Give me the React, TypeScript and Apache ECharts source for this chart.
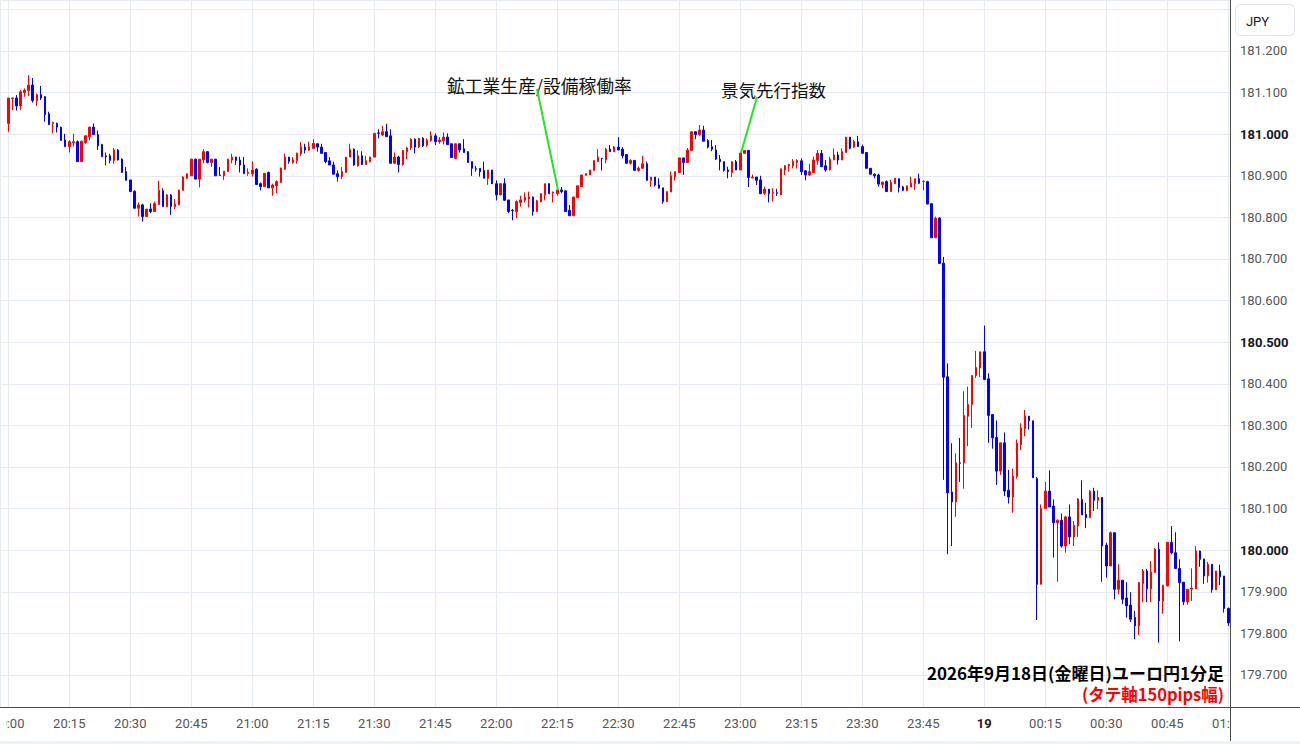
import React, { useEffect, useRef } from "react";
import * as echarts from "echarts";

// Each candle: [open, close, low, high] — EUR/JPY 1-minute, 2026-09-18
const hour20: number[][] = [
  [181.026, 181.087, 181.006, 181.087], [181.086, 181.087, 181.058, 181.088], [181.087, 181.068, 181.057, 181.094],
  [181.068, 181.102, 181.058, 181.106], [181.100, 181.106, 181.090, 181.110], [181.105, 181.118, 181.092, 181.142],
  [181.118, 181.081, 181.076, 181.135], [181.081, 181.095, 181.068, 181.098], [181.095, 181.087, 181.082, 181.116],
  [181.090, 181.047, 181.030, 181.092], [181.049, 181.023, 181.023, 181.054], [181.026, 181.028, 181.002, 181.030],
  [181.026, 181.017, 181.004, 181.028], [181.017, 180.985, 180.985, 181.018], [180.986, 180.970, 180.970, 181.001],
  [180.970, 180.982, 180.956, 180.986], [180.980, 180.982, 180.970, 181.001], [180.982, 180.934, 180.934, 180.985],
  [180.934, 180.983, 180.934, 180.985], [180.980, 180.996, 180.977, 180.998], [180.994, 181.017, 180.985, 181.018],
  [181.017, 180.999, 180.999, 181.026], [180.999, 180.972, 180.962, 181.009], [180.975, 180.946, 180.946, 180.977],
  [180.948, 180.946, 180.925, 180.956], [180.948, 180.937, 180.930, 180.953], [180.937, 180.962, 180.929, 180.967],
  [180.962, 180.938, 180.937, 180.964], [180.940, 180.908, 180.908, 180.942], [180.910, 180.889, 180.889, 180.921],
  [180.890, 180.862, 180.862, 180.890], [180.863, 180.822, 180.822, 180.865], [180.822, 180.830, 180.802, 180.836],
  [180.830, 180.802, 180.790, 180.833], [180.802, 180.820, 180.802, 180.820], [180.820, 180.814, 180.810, 180.834],
  [180.814, 180.833, 180.814, 180.838], [180.831, 180.865, 180.831, 180.888], [180.864, 180.826, 180.826, 180.870],
  [180.826, 180.854, 180.826, 180.856], [180.854, 180.826, 180.806, 180.856], [180.826, 180.832, 180.820, 180.844],
  [180.830, 180.866, 180.830, 180.866], [180.865, 180.897, 180.865, 180.899], [180.894, 180.905, 180.892, 180.906],
  [180.900, 180.940, 180.900, 180.941], [180.940, 180.892, 180.892, 180.941], [180.892, 180.940, 180.872, 180.940],
  [180.938, 180.958, 180.930, 180.964], [180.958, 180.932, 180.930, 180.958], [180.932, 180.940, 180.921, 180.940],
  [180.940, 180.900, 180.900, 180.940], [180.902, 180.901, 180.900, 180.921], [180.900, 180.911, 180.890, 180.911],
  [180.910, 180.940, 180.910, 180.940], [180.938, 180.945, 180.930, 180.953], [180.945, 180.937, 180.926, 180.946],
  [180.938, 180.926, 180.908, 180.946], [180.926, 180.905, 180.905, 180.945], [180.906, 180.908, 180.900, 180.918],
];

const hour21: number[][] = [
  [180.905, 180.914, 180.898, 180.935], [180.916, 180.879, 180.878, 180.918], [180.881, 180.874, 180.865, 180.884],
  [180.874, 180.906, 180.874, 180.906], [180.908, 180.871, 180.871, 180.910], [180.871, 180.878, 180.852, 180.881],
  [180.876, 180.886, 180.858, 180.889], [180.884, 180.919, 180.884, 180.919], [180.916, 180.945, 180.914, 180.953],
  [180.945, 180.935, 180.929, 180.945], [180.932, 180.938, 180.929, 180.945], [180.937, 180.954, 180.929, 180.956],
  [180.953, 180.970, 180.948, 180.981], [180.969, 180.962, 180.954, 180.977], [180.962, 180.970, 180.960, 180.982],
  [180.966, 180.978, 180.964, 180.988], [180.977, 180.969, 180.958, 180.978], [180.969, 180.954, 180.954, 180.977],
  [180.956, 180.934, 180.930, 180.956], [180.936, 180.926, 180.926, 180.945], [180.926, 180.904, 180.904, 180.934],
  [180.905, 180.898, 180.886, 180.913], [180.898, 180.910, 180.892, 180.921], [180.908, 180.945, 180.908, 180.945],
  [180.945, 180.964, 180.945, 180.977], [180.964, 180.926, 180.924, 180.966], [180.924, 180.948, 180.922, 180.961],
  [180.948, 180.927, 180.926, 180.959], [180.927, 180.936, 180.927, 180.948], [180.934, 180.945, 180.932, 180.946],
  [180.945, 181.002, 180.945, 181.002], [181.003, 181.002, 180.990, 181.012], [180.998, 181.006, 180.996, 181.020],
  [181.006, 180.994, 180.994, 181.025], [180.996, 180.930, 180.930, 181.012], [180.930, 180.945, 180.929, 180.956],
  [180.945, 180.927, 180.908, 180.948], [180.927, 180.961, 180.924, 180.962], [180.958, 180.967, 180.940, 180.969],
  [180.967, 180.988, 180.962, 180.990], [180.988, 180.969, 180.954, 180.990], [180.969, 180.990, 180.967, 180.991],
  [180.990, 180.972, 180.969, 180.993], [180.974, 180.986, 180.970, 180.990], [180.985, 180.996, 180.982, 181.007],
  [180.996, 180.982, 180.974, 181.002], [180.982, 180.986, 180.977, 180.993], [180.985, 180.993, 180.975, 181.004],
  [180.993, 180.975, 180.975, 181.002], [180.977, 180.944, 180.944, 180.977], [180.942, 180.977, 180.940, 180.977],
  [180.977, 180.962, 180.956, 180.977], [180.965, 180.956, 180.956, 180.988], [180.958, 180.932, 180.932, 180.959],
  [180.934, 180.918, 180.900, 180.934], [180.917, 180.916, 180.910, 180.924], [180.918, 180.910, 180.898, 180.918],
  [180.913, 180.894, 180.894, 180.934], [180.894, 180.914, 180.878, 180.914], [180.914, 180.881, 180.881, 180.914],
];

const hour22: number[][] = [
  [180.881, 180.854, 180.841, 180.889], [180.854, 180.881, 180.854, 180.881], [180.881, 180.841, 180.841, 180.894],
  [180.842, 180.814, 180.810, 180.842], [180.817, 180.816, 180.793, 180.820], [180.814, 180.838, 180.798, 180.841],
  [180.836, 180.842, 180.826, 180.852], [180.841, 180.848, 180.836, 180.860], [180.844, 180.849, 180.824, 180.862],
  [180.849, 180.814, 180.804, 180.850], [180.814, 180.840, 180.814, 180.842], [180.837, 180.857, 180.837, 180.858],
  [180.854, 180.881, 180.841, 180.881], [180.881, 180.857, 180.857, 180.882], [180.859, 180.861, 180.836, 180.862],
  [180.857, 180.866, 180.852, 180.873], [180.866, 180.862, 180.858, 180.873], [180.864, 180.814, 180.814, 180.864],
  [180.817, 180.804, 180.804, 180.830], [180.804, 180.849, 180.804, 180.849], [180.847, 180.876, 180.847, 180.876],
  [180.874, 180.902, 180.874, 180.902], [180.901, 180.905, 180.901, 180.906], [180.902, 180.914, 180.902, 180.914],
  [180.913, 180.937, 180.913, 180.937], [180.934, 180.945, 180.934, 180.964], [180.942, 180.941, 180.913, 180.943],
  [180.938, 180.964, 180.930, 180.967], [180.964, 180.958, 180.958, 180.974], [180.958, 180.969, 180.958, 180.972],
  [180.969, 180.962, 180.962, 180.993], [180.964, 180.948, 180.942, 180.969], [180.951, 180.930, 180.930, 180.951],
  [180.930, 180.937, 180.927, 180.940], [180.937, 180.913, 180.913, 180.937], [180.913, 180.918, 180.910, 180.922],
  [180.918, 180.929, 180.918, 180.948], [180.929, 180.889, 180.889, 180.934], [180.889, 180.897, 180.874, 180.897],
  [180.897, 180.878, 180.874, 180.897], [180.878, 180.870, 180.870, 180.894], [180.871, 180.838, 180.833, 180.871],
  [180.838, 180.862, 180.838, 180.862], [180.861, 180.900, 180.861, 180.910], [180.898, 180.910, 180.889, 180.910],
  [180.908, 180.943, 180.908, 180.943], [180.943, 180.932, 180.902, 180.943], [180.932, 180.962, 180.932, 180.967],
  [180.961, 181.006, 180.961, 181.006], [181.006, 180.999, 180.988, 181.006], [180.999, 181.010, 180.996, 181.022],
  [181.010, 180.983, 180.983, 181.020], [180.985, 180.969, 180.966, 180.988], [180.970, 180.964, 180.959, 180.986],
  [180.962, 180.940, 180.938, 180.974], [180.940, 180.934, 180.913, 180.950], [180.934, 180.913, 180.910, 180.934],
  [180.914, 180.910, 180.894, 180.922], [180.908, 180.934, 180.897, 180.934], [180.934, 180.914, 180.914, 180.938],
];

const hour23: number[][] = [
  [180.914, 180.954, 180.914, 180.958], [180.954, 180.961, 180.953, 180.962], [180.961, 180.896, 180.873, 180.961],
  [180.895, 180.897, 180.894, 180.903], [180.897, 180.889, 180.878, 180.897], [180.890, 180.857, 180.857, 180.900],
  [180.858, 180.868, 180.854, 180.874], [180.868, 180.857, 180.836, 180.868], [180.858, 180.860, 180.838, 180.870],
  [180.859, 180.858, 180.852, 180.869], [180.854, 180.917, 180.854, 180.917], [180.914, 180.924, 180.902, 180.926],
  [180.924, 180.927, 180.910, 180.929], [180.924, 180.934, 180.918, 180.940], [180.932, 180.937, 180.918, 180.940],
  [180.936, 180.910, 180.902, 180.942], [180.912, 180.902, 180.889, 180.914], [180.902, 180.910, 180.900, 180.929],
  [180.908, 180.938, 180.908, 180.946], [180.937, 180.954, 180.926, 180.962], [180.954, 180.922, 180.922, 180.962],
  [180.924, 180.914, 180.910, 180.938], [180.914, 180.940, 180.913, 180.946], [180.938, 180.950, 180.938, 180.966],
  [180.950, 180.938, 180.927, 180.958], [180.938, 180.958, 180.938, 180.966], [180.956, 180.993, 180.956, 180.993],
  [180.993, 180.966, 180.964, 180.993], [180.969, 180.982, 180.967, 180.986], [180.982, 180.970, 180.970, 180.996],
  [180.970, 180.954, 180.954, 180.975], [180.956, 180.918, 180.918, 180.956], [180.918, 180.904, 180.902, 180.918],
  [180.904, 180.900, 180.894, 180.906], [180.902, 180.880, 180.874, 180.905], [180.879, 180.885, 180.870, 180.885],
  [180.886, 180.862, 180.862, 180.889], [180.862, 180.884, 180.862, 180.890], [180.881, 180.894, 180.881, 180.895],
  [180.893, 180.872, 180.860, 180.894], [180.873, 180.865, 180.863, 180.876], [180.865, 180.876, 180.863, 180.876],
  [180.873, 180.882, 180.873, 180.898], [180.881, 180.893, 180.866, 180.893], [180.893, 180.882, 180.881, 180.905],
  [180.886, 180.887, 180.865, 180.889], [180.886, 180.832, 180.832, 180.888], [180.833, 180.751, 180.751, 180.834],
  [180.751, 180.798, 180.751, 180.802], [180.798, 180.689, 180.689, 180.801], [180.690, 180.416, 180.169, 180.705],
  [180.417, 180.138, 179.990, 180.449], [180.140, 180.116, 180.010, 180.257], [180.116, 180.210, 180.080, 180.233],
  [180.210, 180.209, 180.164, 180.270], [180.210, 180.324, 180.148, 180.382], [180.322, 180.350, 180.250, 180.393],
  [180.350, 180.420, 180.294, 180.420], [180.420, 180.439, 180.414, 180.479], [180.438, 180.477, 180.416, 180.477],
];

const hour00: number[][] = [
  [180.477, 180.410, 180.410, 180.540], [180.412, 180.324, 180.258, 180.425], [180.326, 180.270, 180.244, 180.326],
  [180.271, 180.190, 180.157, 180.312], [180.190, 180.258, 180.181, 180.258], [180.258, 180.142, 180.130, 180.283],
  [180.144, 180.128, 180.112, 180.193], [180.128, 180.178, 180.090, 180.196], [180.177, 180.257, 180.172, 180.266],
  [180.254, 180.294, 180.241, 180.305], [180.292, 180.322, 180.274, 180.337], [180.322, 180.311, 180.290, 180.322],
  [180.311, 180.174, 180.174, 180.311], [180.172, 179.918, 179.832, 180.176], [179.918, 180.100, 179.918, 180.110],
  [180.100, 180.142, 180.100, 180.164], [180.142, 180.104, 180.104, 180.192], [180.106, 180.066, 179.982, 180.122],
  [180.066, 180.072, 179.924, 180.074], [180.072, 180.010, 180.006, 180.088], [180.010, 180.080, 179.994, 180.082],
  [180.080, 180.032, 180.014, 180.110], [180.032, 180.060, 180.010, 180.070], [180.058, 180.123, 180.032, 180.125],
  [180.122, 180.085, 180.085, 180.168], [180.086, 180.078, 180.053, 180.114], [180.078, 180.142, 180.078, 180.144],
  [180.142, 180.120, 180.094, 180.150], [180.120, 180.127, 180.099, 180.144], [180.127, 180.010, 179.924, 180.127],
  [180.012, 179.962, 179.934, 180.018], [179.962, 180.042, 179.962, 180.045], [180.042, 179.906, 179.882, 180.042],
  [179.906, 179.928, 179.894, 179.966], [179.928, 179.882, 179.870, 179.928], [179.885, 179.866, 179.838, 179.923],
  [179.868, 179.834, 179.827, 179.899], [179.838, 179.818, 179.786, 179.854], [179.818, 179.922, 179.796, 179.923],
  [179.920, 179.950, 179.875, 179.955], [179.950, 179.907, 179.875, 179.955], [179.907, 179.947, 179.875, 179.974],
  [179.946, 180.002, 179.946, 180.005], [180.002, 179.878, 179.778, 180.019], [179.878, 179.916, 179.847, 179.916],
  [179.914, 180.019, 179.914, 180.019], [180.019, 179.994, 179.990, 180.058], [179.994, 179.956, 179.956, 180.043],
  [179.956, 179.922, 179.781, 179.978], [179.923, 179.876, 179.868, 179.923], [179.876, 179.906, 179.869, 179.906],
  [179.907, 179.909, 179.878, 179.956], [179.907, 179.998, 179.907, 180.010], [179.998, 179.978, 179.960, 179.999],
  [179.979, 179.938, 179.919, 179.979], [179.938, 179.966, 179.922, 179.972], [179.966, 179.905, 179.898, 179.966],
  [179.905, 179.950, 179.905, 179.950], [179.950, 179.936, 179.916, 179.965], [179.938, 179.860, 179.850, 179.938],
  [179.860, 179.825, 179.818, 179.862],
];

const startHour = 20; // first candle at 20:00
const dateLabel = "19"; // label shown at midnight
const boldPrices = [181.0, 180.5, 180.0];
const annotations = [
  { text: "鉱工業生産/設備稼働率", minute: 135 },
  { text: "景気先行指数", minute: 180 },
];
const titleText = "2026年9月18日(金曜日)ユーロ円1分足";
const subtitleText = "(タテ軸150pips幅)";
const currencyText = "JPY";

const candles = [...hour20, ...hour21, ...hour22, ...hour23, ...hour00];

const pad = (n: number) => (n < 10 ? "0" + n : "" + n);

export default function App() {
  const ref = useRef<HTMLDivElement>(null);
  useEffect(() => {
    if (!ref.current) return;
    const chart = echarts.init(ref.current, null, { renderer: "svg" });
    const data = candles.map((c, i) => [i, c[0], c[1], c[2], c[3]]);
    const axisFont = "Roboto, 'Noto Sans', sans-serif";
    const jpFont = "'Noto Sans CJK JP', 'Noto Sans', sans-serif";
    const gridColor = "#e3eaf2";
    const axisColor = "#4a4a4a";
    chart.setOption({
      animation: false,
      backgroundColor: "#ffffff",
      grid: { left: 0, right: 70, top: 0, bottom: 37, containLabel: false, outerBoundsMode: "none" },
      xAxis: {
        type: "value",
        min: -2.041,
        max: 300.42,
        minInterval: 15,
        maxInterval: 15,
        axisLine: { show: true, onZero: false, lineStyle: { color: axisColor, width: 1 } },
        axisTick: { show: false },
        splitLine: { show: true, lineStyle: { color: gridColor, width: 1 } },
        axisLabel: {
          margin: 10,
          color: "#555",
          fontSize: 13,
          fontFamily: axisFont,
          showMinLabel: false,
          showMaxLabel: false,
          formatter: (v: number) => {
            const m = Math.round(v);
            const total = startHour * 60 + m;
            const h = Math.floor(total / 60) % 24;
            const mm = total % 60;
            if (h === 0 && mm === 0) return "{b|" + dateLabel + "}";
            return pad(h) + ":" + pad(mm);
          },
          rich: { b: { fontWeight: "bold", color: "#222", fontSize: 13, fontFamily: axisFont } },
        },
      },
      yAxis: {
        type: "value",
        position: "right",
        min: 179.623,
        max: 181.3226,
        minInterval: 0.1,
        maxInterval: 0.1,
        axisLine: { show: true, onZero: false, lineStyle: { color: axisColor, width: 1 } },
        axisTick: { show: false },
        splitLine: { show: true, lineStyle: { color: gridColor, width: 1 } },
        axisLabel: {
          margin: 10,
          color: "#555",
          fontSize: 13,
          fontFamily: axisFont,
          showMinLabel: false,
          showMaxLabel: false,
          formatter: (v: number) => {
            if (v > 181.25) return "";
            const s = v.toFixed(3);
            if (boldPrices.some((b) => Math.abs(b - v) < 1e-6)) return "{b|" + s + "}";
            return s;
          },
          rich: { b: { fontWeight: "bold", color: "#131722", fontSize: 13, fontFamily: axisFont } },
        },
      },
      series: [
        {
          type: "candlestick",
          data,
          barWidth: 2,
          itemStyle: {
            color: "#ff0000",
            color0: "#0000ff",
            borderColor: "#ff0000",
            borderColor0: "#0000ff",
            borderWidth: 1,
          },
        },
      ],
      graphic: [
        { type: "rect", z: 100, shape: { x: 1231, y: 708, width: 69, height: 33 }, style: { fill: "#fff" } },
        { type: "rect", z: 100, shape: { x: 0, y: 708, width: 6, height: 33 }, style: { fill: "#fff" } },
        { type: "rect", z: 100, shape: { x: 0, y: 741, width: 1300, height: 3 }, style: { fill: "#eef1f6" } },
        { type: "line", z: 101, shape: { x1: 1230, y1: 707.5, x2: 1300, y2: 707.5 }, style: { stroke: axisColor, lineWidth: 1 } },
        { type: "line", z: 101, shape: { x1: 1230.5, y1: 707, x2: 1230.5, y2: 741 }, style: { stroke: axisColor, lineWidth: 1 } },
        { type: "rect", z: 100, shape: { x: 1235.5, y: 4.5, width: 59, height: 31, r: 5 }, style: { fill: "#fff", stroke: "#e0e3eb", lineWidth: 1 } },
        { type: "text", z: 101, style: { text: currencyText, x: 1257.5, y: 21, align: "center", verticalAlign: "middle", fontSize: 13, fontFamily: axisFont, fill: "#131722" } },
        { type: "text", z: 101, style: { text: annotations[0].text, x: 447, y: 85, align: "left", verticalAlign: "middle", fontSize: 17.8, fontFamily: jpFont, fill: "#111" } },
        { type: "line", z: 101, shape: { x1: 537, y1: 89, x2: 558, y2: 190 }, style: { stroke: "#22e622", lineWidth: 2 } },
        { type: "text", z: 101, style: { text: annotations[1].text, x: 721, y: 89, align: "left", verticalAlign: "middle", fontSize: 17.5, fontFamily: jpFont, fill: "#111" } },
        { type: "line", z: 101, shape: { x1: 757, y1: 97, x2: 741, y2: 153 }, style: { stroke: "#22e622", lineWidth: 2 } },
        { type: "text", z: 101, style: { text: titleText, x: 1224, y: 672, align: "right", verticalAlign: "middle", fontSize: 17, fontWeight: "bold", fontFamily: jpFont, fill: "#000" } },
        { type: "text", z: 101, style: { text: subtitleText, x: 1224, y: 694, align: "right", verticalAlign: "middle", fontSize: 16.5, fontWeight: "bold", fontFamily: jpFont, fill: "#ff0000" } },
      ],
    });
    return () => chart.dispose();
  }, []);
  return (
    <div
      ref={ref}
      style={{ position: "fixed", left: 0, top: 0, width: 1300, height: 744, background: "#fff" }}
    />
  );
}
